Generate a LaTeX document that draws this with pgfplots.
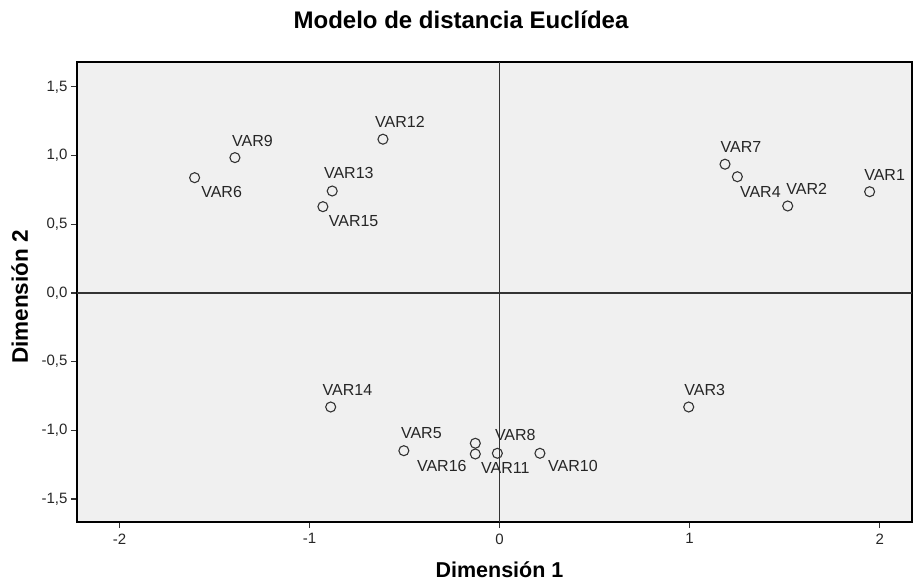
\documentclass[border=0pt]{standalone}
\usepackage{pgfplots}
\pgfplotsset{compat=1.18}
\usepackage{fontspec}
\setmainfont{Liberation Sans}
\definecolor{bgc}{HTML}{F0F0F0}
\definecolor{mk}{HTML}{333333}
\begin{document}
\begin{tikzpicture}
\useasboundingbox (-77pt,-61pt) rectangle (838pt,522pt);
\begin{axis}[
  scale only axis, width=835pt, height=460pt,
  at={(0,0)}, anchor=south west,
  xmin=-2.224, xmax=2.17, ymin=-1.667, ymax=1.681,
  axis background/.style={fill=bgc},
  axis line style={black, line width=1.2pt},
  xtick={-2,-1,0,1,2}, ytick={-1.5,-1,-0.5,0,0.5,1,1.5},
  tick align=outside, tick pos=left,
  major tick length=6pt,
  tick style={black!80, line width=1.2pt},
  /pgf/number format/assume math mode=true,
  yticklabel style={/pgf/number format/.cd, fixed, fixed zerofill, precision=1, use comma},
  xticklabel style={yshift=-2pt},
  tick label style={font=\fontsize{15}{17}\selectfont, text=black!85},
  clip=false,
]
\draw[black!80, line width=1.6pt] (axis cs:-2.224,0) -- (axis cs:2.17,0);
\draw[black!80, line width=1.6pt] (axis cs:0,-1.667) -- (axis cs:0,1.681);
\addplot[only marks, mark=o, mark size=5pt, mark options={draw=mk, line width=1.1pt}] coordinates {
 (1.947,0.737) (1.516,0.633) (0.995,-0.830) (1.251,0.846) (-0.504,-1.148)
 (-1.605,0.839) (1.186,0.937) (-0.128,-1.094) (-1.393,0.985) (0.212,-1.167)
 (-0.012,-1.167) (-0.614,1.119) (-0.881,0.742) (-0.889,-0.830) (-0.930,0.628)
 (-0.128,-1.172)
};
\begin{scope}[every node/.style={font=\fontsize{16}{18}\selectfont, text=black!85, inner sep=0pt}]
\node[xshift=15pt,yshift=17pt] at (axis cs:1.947,0.737) {VAR1};
\node[xshift=19pt,yshift=17pt] at (axis cs:1.516,0.633) {VAR2};
\node[xshift=16pt,yshift=17pt] at (axis cs:0.995,-0.830) {VAR3};
\node[xshift=23pt,yshift=-15pt] at (axis cs:1.251,0.846) {VAR4};
\node[xshift=17.5pt,yshift=18pt] at (axis cs:-0.504,-1.148) {VAR5};
\node[xshift=27pt,yshift=-14pt] at (axis cs:-1.605,0.839) {VAR6};
\node[xshift=16pt,yshift=17.5pt] at (axis cs:1.186,0.937) {VAR7};
\node[xshift=40pt,yshift=8pt] at (axis cs:-0.128,-1.094) {VAR8};
\node[xshift=17.5pt,yshift=17pt] at (axis cs:-1.393,0.985) {VAR9};
\node[xshift=33pt,yshift=-13pt] at (axis cs:0.212,-1.167) {VAR10};
\node[xshift=8pt,yshift=-14.5pt] at (axis cs:-0.012,-1.167) {VAR11};
\node[xshift=17pt,yshift=17pt] at (axis cs:-0.614,1.119) {VAR12};
\node[xshift=16.6pt,yshift=18pt] at (axis cs:-0.881,0.742) {VAR13};
\node[xshift=16.8pt,yshift=16.7pt] at (axis cs:-0.889,-0.830) {VAR14};
\node[xshift=30.7pt,yshift=-14pt] at (axis cs:-0.930,0.628) {VAR15};
\node[xshift=-33.5pt,yshift=-12pt] at (axis cs:-0.128,-1.172) {VAR16};
\end{scope}
\end{axis}
\node[font=\fontsize{24}{27}\selectfont\bfseries, anchor=base, inner sep=0pt] at (384pt,493pt) {Modelo de distancia Euclídea};
\node[font=\fontsize{21.5}{24}\selectfont\bfseries, anchor=base, inner sep=0pt] at (422.5pt,-56pt) {Dimensión 1};
\node[font=\fontsize{22.5}{25}\selectfont\bfseries, rotate=90, anchor=base, inner sep=0pt] at (-49pt,225pt) {Dimensión 2};
\end{tikzpicture}
\end{document}
